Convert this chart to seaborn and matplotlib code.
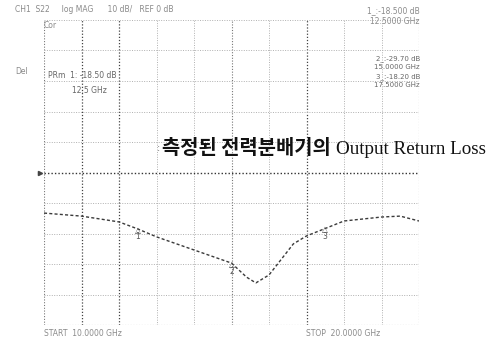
import numpy as np
import pandas as pd
import matplotlib
matplotlib.use("Agg")
import matplotlib.pyplot as plt
import seaborn as sns

# S22 trace of the power divider (GHz, dB); NaN marks the break in the sweep
freq_ghz = [10.0, 11.0, 12.0, 12.5, 13.0, 14.0, 15.0, 15.4, 15.65, 16.0, 16.3, 16.65, 17.0, 18.0, 19.0, 19.5, 20.0]
s22_db = [-13.3, -14.3, -16.2, -18.5, -21.1, -25.4, -29.7, -34.3, -36.2, -33.6, np.nan, -23.4, -20.8, -15.9, -14.6, -14.3, -15.9]

# marker readouts
marker_ids = [1, 2, 3]
marker_freq = [12.5, 15.0, 17.5]
marker_db = [-18.5, -29.7, -18.2]

title_kr = "측정된 전력분배기의 "
title_en = "Output Return Loss"
header_text = "CH1  S22     log MAG      10 dB/   REF 0 dB"
start_text = "START  10.0000 GHz"
stop_text = "STOP  20.0000 GHz"

sns.set_style("white")
plt.rcParams["font.family"] = ["DejaVu Sans"]

fig = plt.figure(figsize=(4.96, 3.40), dpi=100)
ax = fig.add_axes([44 / 496, 15 / 340, 375 / 496, 305 / 340])

df = pd.DataFrame({"freq": freq_ghz, "db": s22_db})
sns.lineplot(data=df, x="freq", y="db", ax=ax, color="#3a3a3a", lw=1.0,
             linestyle=(0, (2.2, 1.6)), estimator=None, sort=False)

ax.set_xlim(10, 20)
ax.set_ylim(-50, 50)
ax.set_xlabel("")
ax.set_ylabel("")
ax.set_xticks([])
ax.set_yticks([])
for s in ax.spines.values():
    s.set_visible(False)

# graticule: 10 x 10 divisions
dark_v = {11, 12, 17}
mid_v = {15, 20, 10}
for f in range(10, 21):
    if f in dark_v:
        c, lw = "#444444", 0.9
    elif f in mid_v:
        c, lw = "#777777", 0.8
    else:
        c, lw = "#b0b0b0", 0.7
    ax.axvline(f, color=c, lw=lw, ls=(0, (1, 1.5)), zorder=0)
for d in range(-50, 51, 10):
    if d == 0:
        c, lw = "#333333", 1.0
    elif d in (-50,):
        c, lw = "#777777", 0.8
    else:
        c, lw = "#b0b0b0", 0.7
    ax.axhline(d, color=c, lw=lw, ls=(0, (1, 1.5)), zorder=0)
# reference position pointer
ax.plot([9.9], [0], marker=">", ms=3, color="#444444", clip_on=False)

# marker symbols on the trace
for mid, mf, md in zip(marker_ids, marker_freq, marker_db):
    ax.text(mf, md - 1.5, f"△\n{mid}", ha="center", va="center", fontsize=5.5,
            color="#555555", linespacing=0.7)

gray = "#8a8a8a"
fs = 5.5
fig.text(15 / 496, 1 - 9 / 340, header_text, fontsize=fs, color=gray, va="center")
fig.text(44 / 496, 1 - 25 / 340, "Cor", fontsize=fs, color=gray, va="center")
fig.text(15 / 496, 1 - 71 / 340, "Del", fontsize=fs, color=gray, va="center")

# active marker readout
fig.text(420 / 496, 1 - 11 / 340, f"{marker_ids[0]}_:{marker_db[0]:.3f} dB",
         fontsize=fs, color=gray, va="center", ha="right")
fig.text(420 / 496, 1 - 21 / 340, f"{marker_freq[0]:.4f} GHz",
         fontsize=fs, color=gray, va="center", ha="right")

# left marker block
fig.text(48 / 496, 1 - 75 / 340, f"PRm  {marker_ids[0]}: {marker_db[0]:.2f} dB",
         fontsize=fs, color="#666666", va="center")
fig.text(72 / 496, 1 - 91 / 340, f"{marker_freq[0]:.1f} GHz",
         fontsize=fs, color="#666666", va="center")

# right marker list
rows = [(59, 67), (77, 85)]
for (ya, yb), mid, mf, md in zip(rows, marker_ids[1:], marker_freq[1:], marker_db[1:]):
    fig.text(420 / 496, 1 - ya / 340, f"{mid}_:{md:.2f} dB", fontsize=5,
             color="#666666", va="center", ha="right")
    fig.text(420 / 496, 1 - yb / 340, f"{mf:.4f} GHz", fontsize=5,
             color="#666666", va="center", ha="right")

fig.text(44 / 496, 1 - 333 / 340, start_text, fontsize=fs, color=gray, va="center")
fig.text(306 / 496, 1 - 333 / 340, stop_text, fontsize=fs, color=gray, va="center")

# caption: Korean in bold gothic, English in serif right after it
fig.text(157 / 496, 1 - 148 / 340, ":", fontsize=7, color="#777777", va="center")
t_kr = fig.text(162 / 496, 1 - 148 / 340, title_kr, fontsize=14.3, color="#111111",
                va="center", ha="left", weight="bold", family=["Noto Sans CJK KR"])
fig.canvas.draw()
bb = t_kr.get_window_extent(renderer=fig.canvas.get_renderer())
fig.text(bb.x1 / fig.bbox.width + 1 / 496, 1 - 149 / 340, title_en, fontsize=13.7,
         color="#111111", va="center", ha="left", family=["Liberation Serif"])

fig.savefig("out.png", dpi=100, facecolor="white")
